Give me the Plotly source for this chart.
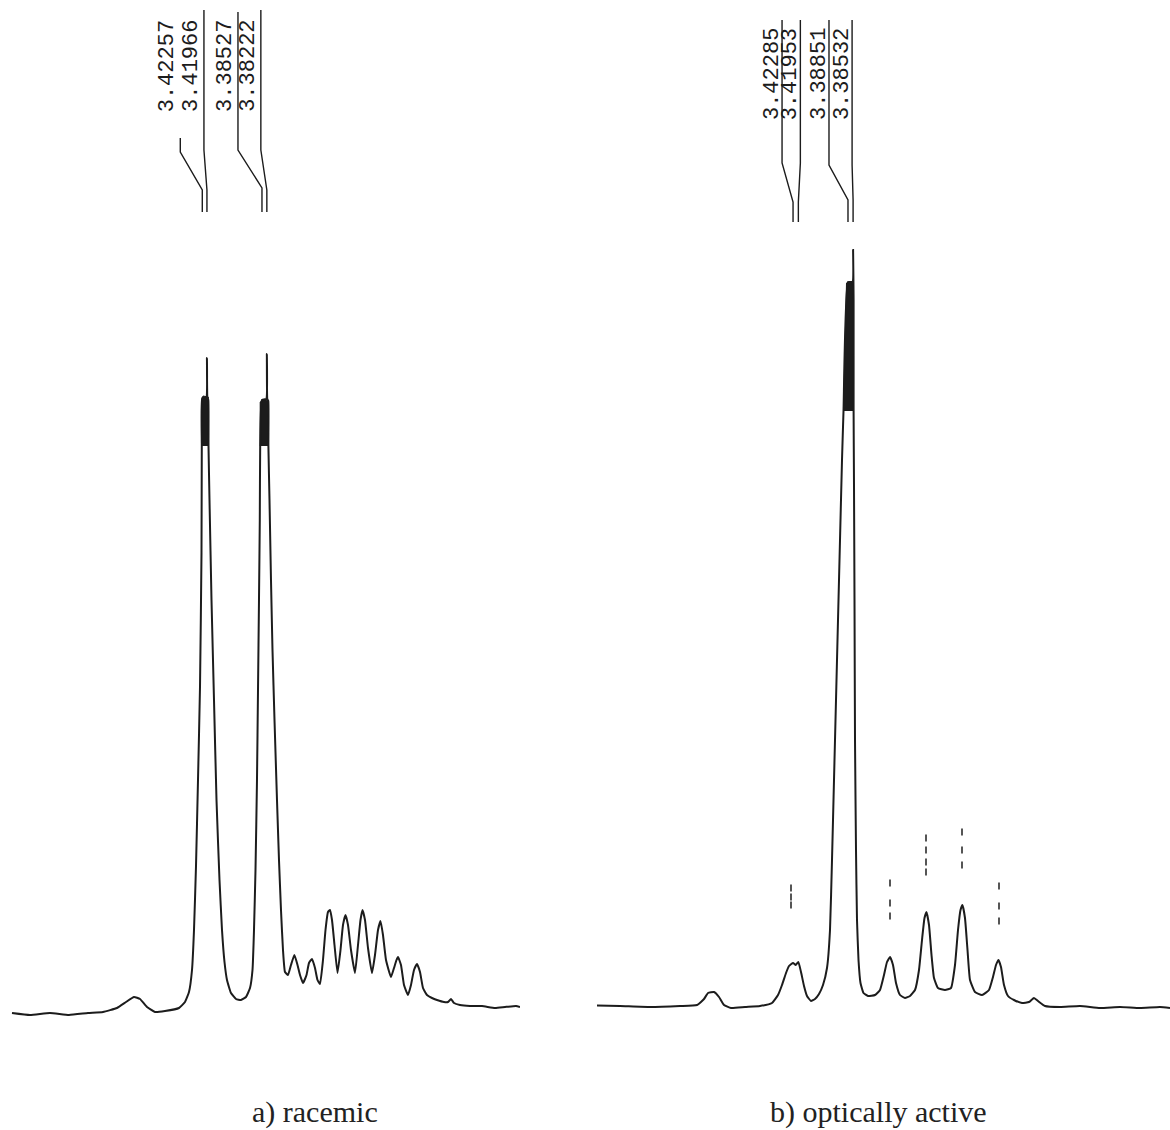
import plotly.graph_objects as go

W, H = 1170, 1130
INK = "#1c1c1c"

# ---- spectrum a) racemic : (chemical shift / ppm, intensity / a.u.) ----
racemic_trace = [
    (3.5415, -3), (3.53025, -5), (3.51775, -3), (3.50588, -5), (3.494, -3),
    (3.48463, -2), (3.47588, 2), (3.47025, 8), (3.46525, 13), (3.4615, 11),
    (3.45713, 3), (3.45213, -2), (3.44588, -1), (3.43713, 2), (3.43338, 8),
    (3.43088, 18), (3.429, 40), (3.42775, 80), (3.4265, 144), (3.42525, 230),
    (3.424, 323), (3.42306, 457), (3.42288, 564), (3.42257, 612), (3.42006, 612),
    (3.41966, 652), (3.41938, 612), (3.41881, 610), (3.41869, 564),
    (3.41806, 510), (3.41681, 410), (3.41525, 310), (3.41369, 210), (3.41181, 130),
    (3.41025, 80), (3.40869, 48), (3.40713, 30), (3.40463, 17), (3.4015, 11),
    (3.39838, 10), (3.39525, 13), (3.39275, 22), (3.39119, 40), (3.39025, 80),
    (3.38931, 140), (3.38838, 230), (3.38775, 320), (3.38713, 410), (3.38663, 490),
    (3.38638, 564), (3.38527, 610), (3.38256, 611), (3.38222, 656), (3.38194, 611),
    (3.38131, 609), (3.38125, 564),
    (3.38056, 510), (3.37963, 430), (3.37869, 360), (3.37744, 290), (3.37588, 210),
    (3.37463, 150), (3.37338, 100), (3.37213, 60), (3.37088, 38), (3.369, 35),
    (3.36713, 45), (3.365, 55), (3.36306, 45), (3.3615, 35), (3.35963, 27),
    (3.35744, 35), (3.35588, 47), (3.354, 51), (3.35213, 42), (3.35056, 30),
    (3.349, 26), (3.34713, 50), (3.34556, 80), (3.344, 98), (3.34275, 100),
    (3.3415, 90), (3.33994, 65), (3.33806, 37), (3.33619, 60), (3.33463, 85),
    (3.33306, 95), (3.3315, 85), (3.32963, 60), (3.32713, 37), (3.32525, 65),
    (3.32369, 90), (3.32244, 100), (3.32088, 90), (3.319, 62), (3.3165, 37),
    (3.31463, 55), (3.31275, 80), (3.31119, 89), (3.30963, 75), (3.30775, 50),
    (3.30463, 33), (3.30275, 42), (3.30119, 50), (3.30025, 53), (3.29838, 45),
    (3.2965, 25), (3.294, 15), (3.29213, 25), (3.29025, 40), (3.28838, 46),
    (3.2865, 38), (3.28463, 22), (3.28213, 15), (3.279, 12), (3.27588, 10),
    (3.2715, 8), (3.269, 8), (3.26713, 11), (3.26525, 7), (3.2615, 5),
    (3.25525, 4), (3.24775, 4), (3.23963, 2), (3.23338, 3), (3.2265, 4), (3.224, 3),
]
# unresolved (over-plotted) tops of the two doublets
racemic_band_1 = [(3.42294, 564), (3.42294, 610), (3.42213, 614), (3.41881, 613), (3.41881, 564)]
racemic_band_2 = [(3.38638, 564), (3.38638, 608), (3.384, 611), (3.38125, 609), (3.38125, 564)]
racemic_labels = [3.42257, 3.41966, 3.38527, 3.38222]

# ---- spectrum b) optically active ----
active_trace = [
    (3.54538, 4.5), (3.531, 4), (3.51225, 3), (3.4935, 4), (3.48288, 5),
    (3.4785, 11), (3.476, 17), (3.47225, 18), (3.46913, 13), (3.466, 5),
    (3.46163, 2), (3.45288, 3), (3.4435, 4), (3.436, 7), (3.43225, 15),
    (3.42975, 25), (3.42725, 37), (3.42538, 44), (3.42285, 47), (3.42119, 45),
    (3.41953, 48), (3.41788, 38), (3.416, 24), (3.41413, 14), (3.41163, 9),
    (3.40913, 11), (3.40663, 16), (3.40413, 25), (3.40163, 42), (3.39975, 80),
    (3.3985, 150), (3.39725, 230), (3.396, 310), (3.39475, 390), (3.3935, 470),
    (3.39225, 550), (3.39131, 599), (3.38851, 728), (3.38563, 728), (3.38532, 760),
    (3.385, 710), (3.385, 599),
    (3.38475, 525), (3.38444, 410), (3.38413, 270), (3.3835, 160), (3.38288, 90),
    (3.38194, 50), (3.38069, 27), (3.37881, 17), (3.376, 14), (3.37163, 15),
    (3.3685, 20), (3.366, 35), (3.36413, 48), (3.36225, 53), (3.36038, 45),
    (3.3585, 27), (3.356, 15), (3.35288, 12), (3.34975, 14), (3.34663, 20),
    (3.34413, 40), (3.34225, 70), (3.34069, 92), (3.33944, 98), (3.33788, 85),
    (3.33631, 55), (3.33475, 32), (3.33225, 22), (3.32788, 20), (3.32413, 22),
    (3.32163, 45), (3.31975, 80), (3.31819, 100), (3.31694, 105), (3.31538, 92),
    (3.31381, 60), (3.31225, 30), (3.30913, 18), (3.30475, 15), (3.30038, 20),
    (3.29788, 33), (3.296, 45), (3.29444, 50), (3.29288, 43), (3.291, 25),
    (3.2885, 14), (3.28475, 10), (3.27975, 7), (3.27538, 8), (3.27225, 12),
    (3.26975, 9), (3.26538, 4), (3.256, 3), (3.2435, 4), (3.231, 2),
    (3.2185, 3), (3.206, 2), (3.1935, 3), (3.18725, 2),
]
active_band = [(3.39131, 599), (3.38944, 727), (3.38519, 729), (3.38519, 599)]
active_labels = [3.42285, 3.41953, 3.38851, 3.38532]
# pen ticks above the multiplet lines
active_ticks = [
    (3.42413, 122), (3.42413, 113), (3.42413, 105),
    (3.36225, 127), (3.36225, 107), (3.36225, 94),
    (3.33975, 172), (3.33975, 160), (3.33975, 148), (3.33975, 138),
    (3.31725, 178), (3.31725, 160), (3.31725, 145),
    (3.29413, 124), (3.29413, 104), (3.29413, 89),
]


def py(px):
    """vertical page position (pixels from top) -> paper fraction"""
    return 1 - px / H


fig = go.Figure()


def add_spectrum(trace, bands, xa):
    for band in bands:
        fig.add_trace(go.Scatter(
            x=[p[0] for p in band], y=[p[1] for p in band], xaxis=xa, yaxis="y",
            mode="lines", fill="toself", fillcolor=INK,
            line=dict(color=INK, width=1), hoverinfo="skip", showlegend=False))
    fig.add_trace(go.Scatter(
        x=[p[0] for p in trace], y=[p[1] for p in trace], xaxis=xa, yaxis="y",
        mode="lines", line=dict(color=INK, width=2, shape="spline", smoothing=0.4),
        hoverinfo="skip", showlegend=False))


add_spectrum(racemic_trace, [racemic_band_1, racemic_band_2], "x")
add_spectrum(active_trace, [active_band], "x2")

fig.add_trace(go.Scatter(
    x=[p[0] for p in active_ticks], y=[p[1] for p in active_ticks], xaxis="x2", yaxis="y",
    mode="markers", marker=dict(symbol="line-ns", size=5, line=dict(color="#555", width=2)),
    hoverinfo="skip", showlegend=False))

# peak-list leaders: column offset (px), top, bend start, bend end
leader_left = [(-22, 138, 152, 190), (-3, 10, 150, 190), (-24, 12, 150, 188), (-6, 10, 150, 190)]
leader_right = [(-11, 20, 163, 202), (2, 20, 163, 202), (-19, 20, 165, 200), (-1, 20, 165, 200)]


def add_leaders(values, geom, xref, foot, text_dx, text_mid):
    for v, (dx, top, b0, b1) in zip(values, geom):
        path = (f"M {dx},{py(top)} L {dx},{py(b0)} L 0,{py(b1)} L 0,{py(foot)}")
        fig.add_shape(type="path", path=path, xref=xref, yref="paper",
                      xsizemode="pixel", xanchor=v,
                      line=dict(color=INK, width=1.4))
        fig.add_annotation(x=v, xref=xref, xshift=dx + text_dx, y=py(text_mid), yref="paper",
                           text=f"{v:.5f}", textangle=-90, showarrow=False,
                           xanchor="center", yanchor="middle",
                           font=dict(family="Liberation Mono, DejaVu Sans Mono, monospace",
                                     size=22, color=INK))


add_leaders(racemic_labels, leader_left, "x", 212, -12, 66)
add_leaders(active_labels, leader_right, "x2", 222, -10, 74)

caption_font = dict(family="Liberation Serif, Times New Roman, serif", size=30, color="#222")
fig.add_annotation(x=315 / W, y=py(1112), xref="paper", yref="paper", text="a) racemic",
                   showarrow=False, xanchor="center", yanchor="middle", font=caption_font)
fig.add_annotation(x=878 / W, y=py(1112), xref="paper", yref="paper", text="b) optically active",
                   showarrow=False, xanchor="center", yanchor="middle", font=caption_font)

fig.update_layout(
    width=W, height=H, margin=dict(l=0, r=0, t=0, b=0),
    paper_bgcolor="white", plot_bgcolor="white",
    xaxis=dict(domain=[10 / W, 520 / W], range=[3.54275, 3.224], visible=False),
    xaxis2=dict(domain=[597 / W, 1.0], range=[3.54538, 3.18725], visible=False, anchor="y"),
    yaxis=dict(domain=[0, 1], range=[-120, 1010], visible=False),
    showlegend=False,
)

fig.write_html("out.html")
